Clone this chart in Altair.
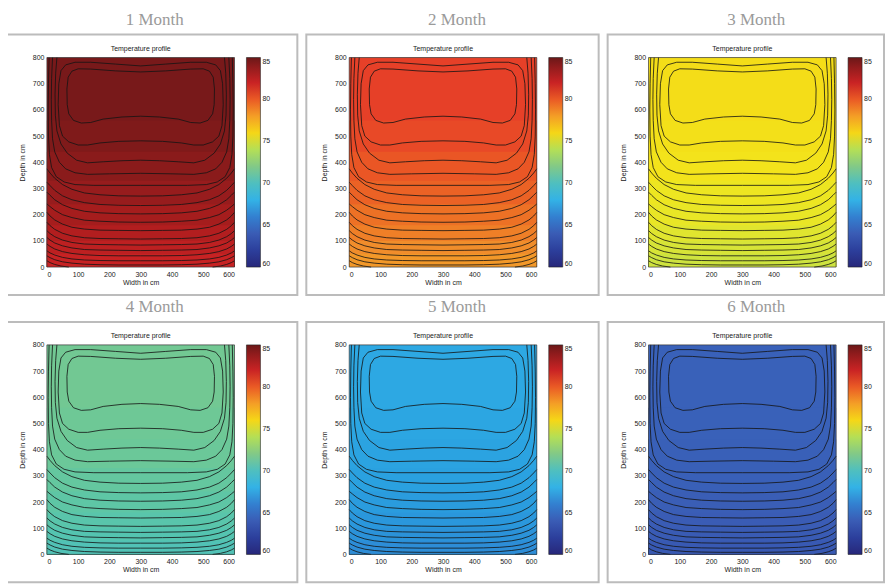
import altair as alt
import pandas as pd

MONTHS = ["1 Month", "2 Month", "3 Month", "4 Month", "5 Month", "6 Month"]
X_TICKS = [0, 100, 200, 300, 400, 500, 600]
Y_TICKS = [0, 100, 200, 300, 400, 500, 600, 700, 800]
CBAR_TICKS = [60, 65, 70, 75, 80, 85]

# colour map (a jet-like map, as it appears in the picture)
COLOR_STOPS = [60, 62, 64, 66, 68, 70, 72, 75.5, 78.5, 81, 83, 85]
COLOR_RANGE = ["#27277a", "#2c3f9c", "#3a5cb5", "#3380d0", "#33b2e6", "#4fbfbf",
               "#82c987", "#f2e61c", "#f0902c", "#e3282a", "#b01e1e", "#6b1818"]

# temperature of the field by depth (cm): each band reaches from the bottom up to its top,
# the next one (lower) is drawn over it
BAND_TOP = [800, 560, 440, 330, 240, 160, 100, 50]
TEMP_1 = [84.6, 84.4, 84.1, 83.7, 83.3, 82.9, 82.5, 82.1]
TEMP_2 = [80.6, 80.4, 80.1, 79.8, 79.4, 79.0, 78.6, 78.2]
TEMP_3 = [75.8, 75.7, 75.6, 75.4, 75.3, 75.1, 74.9, 74.7]
TEMP_4 = [71.6, 71.5, 71.4, 71.2, 71.0, 70.8, 70.6, 70.4]
TEMP_5 = [67.6, 67.5, 67.4, 67.3, 67.1, 66.9, 66.7, 66.5]
TEMP_6 = [64.3, 64.3, 64.2, 64.2, 64.1, 64.0, 63.9, 63.8]
PANEL_TEMPS = [TEMP_1, TEMP_2, TEMP_3, TEMP_4, TEMP_5, TEMP_6]

# contour lines (width cm, depth cm), same shape in every month
C1_X = [300, 220, 140, 100, 80, 68, 64, 65, 70, 85, 110, 140, 180, 240, 300, 360, 420, 460, 490, 515, 530, 535, 536, 532, 520, 500, 460, 380, 300]
C1_Y = [745, 749, 756, 757, 748, 725, 680, 620, 585, 560, 550, 552, 565, 573, 576, 573, 565, 552, 550, 560, 585, 620, 680, 725, 748, 757, 756, 749, 745]
C2_X = [300, 220, 140, 90, 60, 45, 38, 36, 40, 50, 70, 100, 130, 170, 230, 300, 370, 430, 470, 500, 530, 550, 560, 564, 562, 555, 540, 510, 460, 380, 300]
C2_Y = [768, 775, 782, 782, 772, 750, 700, 620, 540, 500, 478, 466, 466, 474, 480, 482, 480, 474, 466, 466, 478, 500, 540, 620, 700, 750, 772, 782, 782, 775, 768]
U3_X = [32, 28, 26, 27, 32, 45, 65, 95, 130, 180, 240, 300, 360, 420, 470, 505, 535, 555, 568, 573, 574, 572, 568]
U3_Y = [800, 740, 660, 580, 520, 470, 435, 408, 398, 402, 406, 408, 406, 402, 398, 408, 435, 470, 520, 580, 660, 740, 800]
U4_X = [18, 15, 14, 15, 18, 25, 40, 60, 90, 130, 200, 300, 400, 470, 510, 540, 560, 575, 582, 585, 586, 585, 582]
U4_Y = [800, 720, 640, 560, 490, 440, 400, 375, 360, 354, 356, 358, 356, 354, 360, 375, 400, 440, 490, 560, 640, 720, 800]
U5_X = [7, 5, 4, 5, 8, 15, 30, 55, 90, 150, 300, 450, 510, 545, 570, 585, 592, 595, 596, 595, 593]
U5_Y = [800, 700, 600, 500, 430, 380, 345, 325, 315, 312, 312, 312, 315, 325, 345, 380, 430, 500, 600, 700, 800]
OPEN_X = [0, 10, 25, 50, 80, 120, 170, 230, 300, 370, 430, 480, 520, 550, 575, 590, 600]
L6_Y = [375, 359, 339, 315, 297, 283, 276, 272, 271, 272, 276, 283, 297, 315, 339, 359, 375]
L7_Y = [324, 311, 293, 272, 257, 246, 239, 236, 235, 236, 239, 246, 257, 272, 293, 311, 324]
L8_Y = [286, 274, 257, 238, 224, 213, 207, 204, 203, 204, 207, 213, 224, 238, 257, 274, 286]
L9_Y = [241, 231, 217, 200, 189, 179, 175, 172, 171, 172, 175, 179, 189, 200, 217, 231, 241]
L10_Y = [209, 195, 180, 164, 152, 145, 141, 140, 139, 140, 141, 145, 152, 164, 180, 195, 209]
L11_Y = [171, 158, 144, 129, 119, 112, 109, 108, 107, 108, 109, 112, 119, 129, 144, 158, 171]
L12_Y = [139, 128, 116, 103, 94, 88, 86, 85, 84, 85, 86, 88, 94, 103, 116, 128, 139]
L13_Y = [113, 103, 92, 81, 73, 67, 65, 64, 63, 64, 65, 67, 73, 81, 92, 103, 113]
L14_Y = [88, 79, 69, 59, 52, 47, 44, 43, 43, 43, 44, 47, 52, 59, 69, 79, 88]
L15_Y = [62, 54, 46, 37, 31, 27, 25, 24, 24, 24, 25, 27, 31, 37, 46, 54, 62]
L16_Y = [43, 36, 28, 20, 15, 11, 9, 8, 8, 8, 9, 11, 15, 20, 28, 36, 43]
K1L_X = [0, 10, 25, 45, 70]
K1L_Y = [24, 17, 10, 4, 0]
K1R_X = [530, 555, 575, 590, 600]
K1R_Y = [0, 4, 10, 17, 24]

CONTOURS = {
    "c1": (C1_X, C1_Y), "c2": (C2_X, C2_Y), "u3": (U3_X, U3_Y), "u4": (U4_X, U4_Y),
    "u5": (U5_X, U5_Y), "l6": (OPEN_X, L6_Y), "l7": (OPEN_X, L7_Y), "l8": (OPEN_X, L8_Y),
    "l9": (OPEN_X, L9_Y), "l10": (OPEN_X, L10_Y), "l11": (OPEN_X, L11_Y),
    "l12": (OPEN_X, L12_Y), "l13": (OPEN_X, L13_Y), "l14": (OPEN_X, L14_Y),
    "l15": (OPEN_X, L15_Y), "l16": (OPEN_X, L16_Y), "k1l": (K1L_X, K1L_Y), "k1r": (K1R_X, K1R_Y),
}

rows = []
for cid, (xs_, ys_) in CONTOURS.items():
    for i, (xv, yv) in enumerate(zip(xs_, ys_)):
        rows.append({"id": cid, "i": i, "x": xv, "y": yv})
contour_df = pd.DataFrame(rows)

PW, PH = 188, 210
LABEL_FONT = "Liberation Sans"
# white frame around each panel: (left, right) offsets from the plot area, in pixels
FRAME_LR = [(-41, PW + 63), (-43, PW + 62), (-41, PW + 48),
            (-41, PW + 63), (-43, PW + 62), (-41, PW + 48)]


def panel(k):
    n = len(BAND_TOP)
    bands = pd.DataFrame({
        "x0": [0] * n, "x1": [600] * n,
        "y0": [0] * n, "y1": BAND_TOP, "t": PANEL_TEMPS[k],
    })
    xscale = alt.Scale(domain=[0, 600], nice=False, zero=False)
    yscale = alt.Scale(domain=[0, 800], nice=False, zero=False)
    cscale = alt.Scale(domain=COLOR_STOPS, range=COLOR_RANGE, clamp=True)
    xaxis = alt.Axis(values=X_TICKS, title="Width in cm", labelPadding=3, titlePadding=1)
    yaxis = alt.Axis(values=Y_TICKS, title="Depth in cm", labelPadding=3, titlePadding=7)
    one = pd.DataFrame({"k": [0]})
    fl, fr = FRAME_LR[k]

    frame = alt.Chart(one).mark_rect(fillOpacity=0, stroke="#bcbcbc", strokeWidth=2).encode(
        x=alt.value(fl), x2=alt.value(fr), y=alt.value(-23), y2=alt.value(PH + 28))

    field = alt.Chart(bands).mark_rect().encode(
        x=alt.X("x0:Q", scale=xscale, axis=xaxis),
        x2="x1:Q",
        y=alt.Y("y0:Q", scale=yscale, axis=yaxis),
        y2="y1:Q",
        color=alt.Color("t:Q", scale=cscale,
                        legend=alt.Legend(title=None, values=CBAR_TICKS, orient="right",
                                          gradientLength=PH, gradientThickness=14,
                                          offset=10, padding=0, labelOverlap=False,
                                          gradientStrokeColor="#222", gradientStrokeWidth=0.6,
                                          labelOffset=2, zindex=1)),
    )

    lines = alt.Chart(contour_df).mark_line(color="#141414", strokeWidth=0.9, opacity=0.9).encode(
        x=alt.X("x:Q", scale=xscale, axis=xaxis),
        y=alt.Y("y:Q", scale=yscale, axis=yaxis),
        detail="id:N",
        order="i:Q",
    )

    border = alt.Chart(one).mark_rect(fillOpacity=0, stroke="#333", strokeWidth=0.7).encode(
        x=alt.value(0), x2=alt.value(PW), y=alt.value(0), y2=alt.value(PH))

    inner = alt.Chart(one).mark_text(font=LABEL_FONT, fontSize=7, color="#222").encode(
        x=alt.value(PW / 2), y=alt.value(-9), text=alt.value("Temperature profile"))

    return alt.layer(frame, field, lines, border, inner).properties(
        width=PW, height=PH,
        title=alt.Title(MONTHS[k], font="Liberation Serif", fontSize=17, fontWeight="normal",
                        color="#9a9a9a", anchor="middle", dx=14, offset=5),
    )


row1 = alt.hconcat(panel(0), panel(1), panel(2), spacing=7).resolve_scale(color="independent")
row2 = alt.hconcat(panel(3), panel(4), panel(5), spacing=7).resolve_scale(color="independent")

chart = alt.vconcat(row1, row2, spacing=2).resolve_scale(color="independent").properties(
    padding={"left": -3, "top": 2, "right": 0, "bottom": 0}, background="white"
).configure_view(stroke=None).configure_axis(
    labelFont=LABEL_FONT, labelFontSize=7, labelColor="#222",
    titleFont=LABEL_FONT, titleFontSize=7, titleFontWeight="normal", titleColor="#222",
    ticks=False, domain=False, grid=False, zindex=1,
).configure_legend(labelFont=LABEL_FONT, labelFontSize=7, labelColor="#222")

chart.save("out.html", embed_options={"renderer": "svg", "actions": False})
